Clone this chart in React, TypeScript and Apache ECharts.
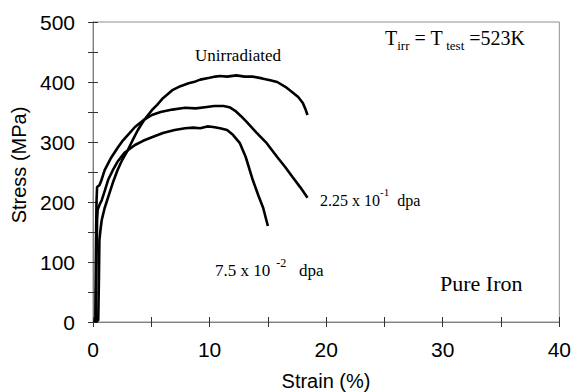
import React, { useEffect, useRef } from "react";
import * as echarts from "echarts";

const xTicks = [0, 10, 20, 30, 40];
const yTicks = [0, 100, 200, 300, 400, 500];

const unirradiated: [number, number][] = [
  [0.2, 0], [0.45, 3], [0.5, 60], [0.55, 137], [0.65, 155], [0.75, 170], [1.0, 190],
  [1.3, 208], [1.7, 232], [2.1, 253], [2.5, 270], [3.0, 287], [3.4, 303], [3.85, 320],
  [4.4, 337], [5.05, 353], [5.5, 362], [6.0, 373], [6.85, 387], [7.5, 393], [8.2, 398],
  [8.8, 401], [9.2, 404], [10.0, 407], [10.5, 409], [10.9, 410], [11.5, 409], [12.3, 411],
  [13.0, 409], [13.7, 409], [14.5, 406], [15.2, 403], [15.8, 400], [16.5, 392], [17.1, 383],
  [17.6, 375], [18.0, 365], [18.2, 356], [18.4, 345],
];

const dpa225: [number, number][] = [
  [0.15, 0], [0.2, 5], [0.25, 120], [0.3, 200], [0.35, 225], [0.55, 228], [0.7, 235],
  [1.0, 253], [1.5, 272], [2.1, 290], [2.5, 301], [3.0, 312], [3.6, 325], [4.3, 336],
  [5.05, 345], [5.8, 350], [6.8, 354], [7.9, 357], [8.8, 356], [9.6, 358], [10.4, 360],
  [11.2, 360], [11.7, 358], [12.2, 352], [12.7, 343], [13.2, 333], [14.0, 316], [14.9, 298],
  [15.8, 275], [16.5, 258], [17.1, 242], [17.8, 224], [18.4, 207],
];

const dpa075: [number, number][] = [
  [0.15, 0], [0.25, 3], [0.3, 100], [0.35, 170], [0.4, 187], [0.55, 195], [0.75, 203],
  [1.0, 218], [1.3, 237], [1.7, 253], [2.1, 267], [2.7, 282], [3.6, 295], [4.3, 302],
  [5.05, 308], [6.0, 315], [7.0, 320], [7.9, 323], [8.6, 324], [9.2, 323], [9.8, 326],
  [10.3, 325], [10.9, 323], [11.5, 320], [12.0, 312], [12.6, 298], [13.1, 275], [13.7, 237],
  [14.2, 210], [14.6, 190], [15.0, 160],
];

const sans = "Liberation Sans, Arial, sans-serif";
const serif = "Liberation Serif, Times New Roman, serif";

export default function App() {
  const ref = useRef<HTMLDivElement>(null);
  useEffect(() => {
    if (!ref.current) return;
    const chart = echarts.init(ref.current, undefined, { renderer: "svg" });
    const xLab = (v: number) => (xTicks.includes(v) ? String(v) : "");
    const yLab = (v: number) => (yTicks.includes(v) ? String(v) : "");
    const axisCommon = {
      type: "value" as const,
      splitLine: { show: false },
      axisLine: { show: true, lineStyle: { color: "#808080", width: 1 } },
    };
    const line = (data: [number, number][]) => ({
      type: "line",
      data,
      showSymbol: false,
      symbol: "none",
      lineStyle: { color: "#000", width: 2.6 },
      z: 5,
    });
    chart.setOption({
      animation: false,
      grid: {
        left: 93, right: 14, top: 22, bottom: 70,
        show: true, borderColor: "#909090", borderWidth: 1, backgroundColor: "transparent",
      },
      xAxis: [
        {
          ...axisCommon, min: 0, max: 40, interval: 5, position: "bottom",
          axisTick: { show: true, inside: true, length: 5, lineStyle: { color: "#333" } },
          axisLabel: { formatter: xLab, fontSize: 21, fontFamily: sans, color: "#000", margin: 17 },
        },
        {
          ...axisCommon, min: 0, max: 40, interval: 5, position: "bottom",
          axisTick: { show: true, inside: false, length: 5, lineStyle: { color: "#333" } },
          axisLabel: { show: false },
        },
      ],
      yAxis: [
        {
          ...axisCommon, min: 0, max: 500, interval: 50, position: "left",
          axisTick: { show: true, inside: true, length: 5, lineStyle: { color: "#333" } },
          axisLabel: { formatter: yLab, fontSize: 21, fontFamily: sans, color: "#000", margin: 18 },
        },
        {
          ...axisCommon, min: 0, max: 500, interval: 50, position: "left",
          axisTick: { show: true, inside: false, length: 5, lineStyle: { color: "#333" } },
          axisLabel: { show: false },
        },
      ],
      series: [line(unirradiated), line(dpa225), line(dpa075)],
      graphic: [
        {
          type: "text", x: 19, y: 165, rotation: Math.PI / 2,
          style: { text: "Stress (MPa)", fontSize: 20, fontFamily: sans, fill: "#000", align: "center", verticalAlign: "middle" },
        },
        {
          type: "text", x: 326, y: 381,
          style: { text: "Strain (%)", fontSize: 20, fontFamily: sans, fill: "#000", align: "center", verticalAlign: "middle" },
        },
        {
          type: "text", x: 238, y: 55,
          style: { text: "Unirradiated", fontSize: 17, fontFamily: serif, fill: "#000", align: "center", verticalAlign: "middle" },
        },
        {
          type: "text", x: 385, y: 40,
          style: {
            text: "{m|T}{s|irr}{m| = T}{s| test}{m| =523K}",
            align: "left", verticalAlign: "middle",
            rich: {
              m: { fontSize: 20, fontFamily: serif, fill: "#000", lineHeight: 24, verticalAlign: "top" },
              s: { fontSize: 13, fontFamily: serif, fill: "#000", lineHeight: 24, verticalAlign: "bottom" },
            },
          },
        },
        {
          type: "text", x: 320, y: 197,
          style: {
            text: "{m|2.25 x 10}{s|-1}{m|  dpa}",
            align: "left", verticalAlign: "middle",
            rich: {
              m: { fontSize: 16, fontFamily: serif, fill: "#000", lineHeight: 22, verticalAlign: "bottom" },
              s: { fontSize: 11, fontFamily: serif, fill: "#000", lineHeight: 22, verticalAlign: "top" },
            },
          },
        },
        {
          type: "text", x: 215, y: 268,
          style: {
            text: "{m|7.5 x 10}{s|  -2}{m|   dpa}",
            align: "left", verticalAlign: "middle",
            rich: {
              m: { fontSize: 17, fontFamily: serif, fill: "#000", lineHeight: 22, verticalAlign: "bottom" },
              s: { fontSize: 12, fontFamily: serif, fill: "#000", lineHeight: 22, verticalAlign: "top" },
            },
          },
        },
        {
          type: "text", x: 440, y: 283,
          style: { text: "Pure Iron", fontSize: 22, fontFamily: serif, fill: "#000", align: "left", verticalAlign: "middle" },
        },
      ],
    });
    return () => chart.dispose();
  }, []);
  return <div ref={ref} style={{ width: 574, height: 392, position: "absolute", left: 0, top: 0 }} />;
}
